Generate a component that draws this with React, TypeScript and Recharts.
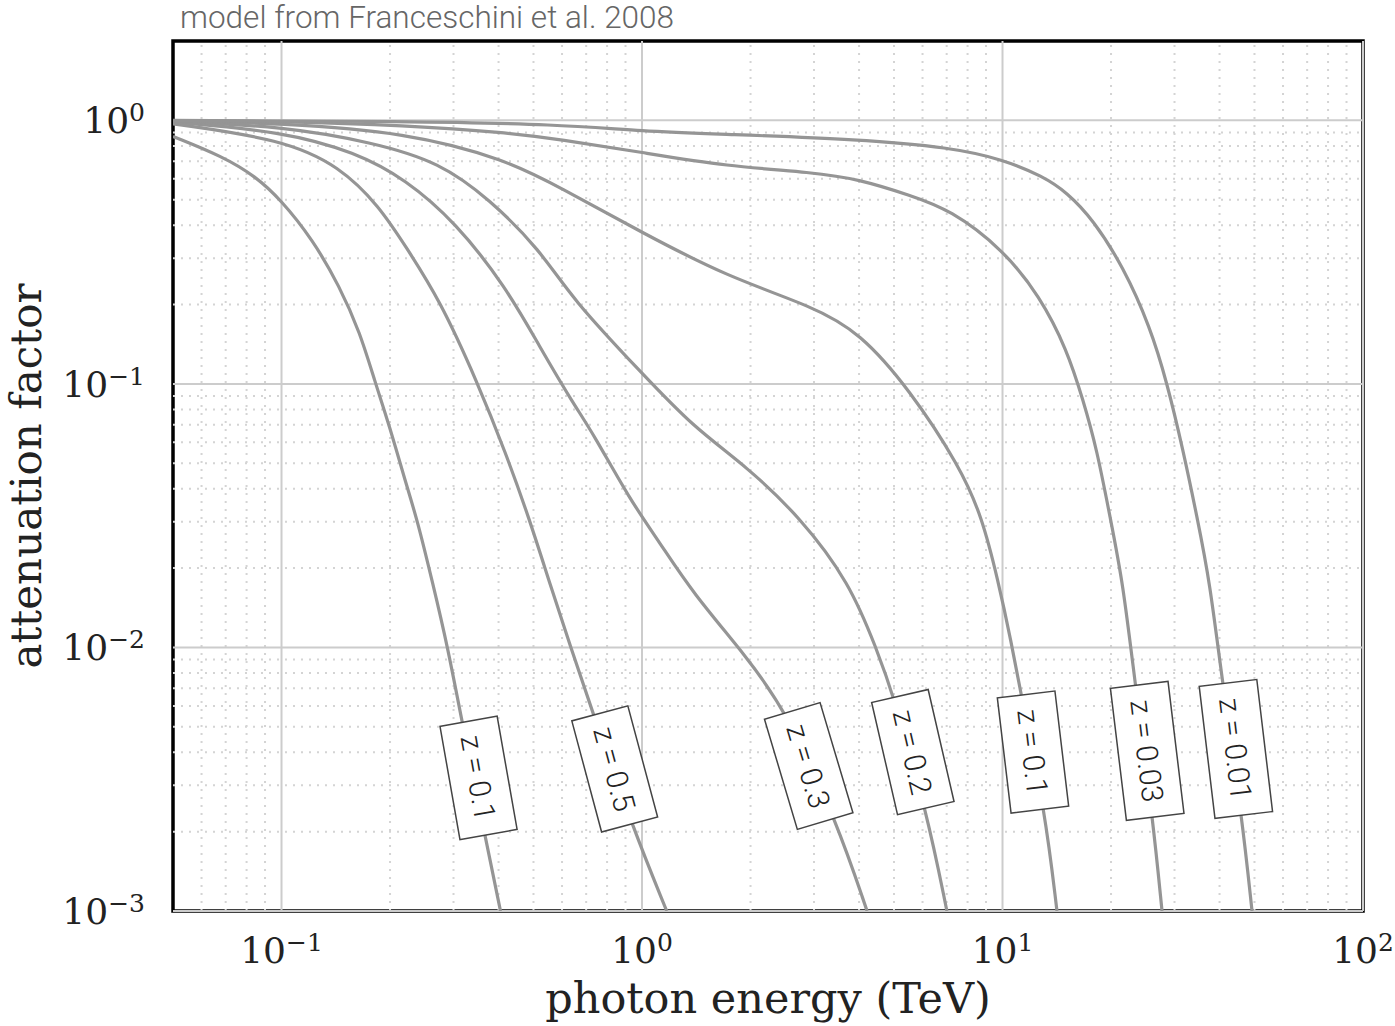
import React from 'react';
import { LineChart, Line, XAxis, YAxis, ReferenceLine, ReferenceDot, ReferenceArea } from 'recharts';

// photon energy (TeV) -> attenuation factor
const zOneLeft = [
  { e: 0.05, f: 0.869 }, { e: 0.0686, f: 0.73 }, { e: 0.0847, f: 0.613 }, { e: 0.0994, f: 0.501 },
  { e: 0.122, f: 0.353 }, { e: 0.145, f: 0.234 }, { e: 0.165, f: 0.157 }, { e: 0.182, f: 0.101 },
  { e: 0.1995, f: 0.0689 }, { e: 0.221, f: 0.0422 }, { e: 0.238, f: 0.0305 }, { e: 0.2625, f: 0.0176 },
  { e: 0.289, f: 0.01005 }, { e: 0.316, f: 0.00531 }, { e: 0.368, f: 0.00189 }, { e: 0.405, f: 0.001 },
];
const zFive = [
  { e: 0.05, f: 0.97 }, { e: 0.1006, f: 0.847 }, { e: 0.145, f: 0.669 }, { e: 0.187, f: 0.471 },
  { e: 0.221, f: 0.332 }, { e: 0.2745, f: 0.209 }, { e: 0.35, f: 0.101 }, { e: 0.4185, f: 0.0548 },
  { e: 0.488, f: 0.0305 }, { e: 0.554, f: 0.0176 }, { e: 0.634, f: 0.01005 }, { e: 0.73, f: 0.00565 },
  { e: 0.942, f: 0.00208 }, { e: 1.171, f: 0.001 },
];
const zThree = [
  { e: 0.05, f: 0.985 }, { e: 0.1006, f: 0.908 }, { e: 0.1605, f: 0.756 }, { e: 0.221, f: 0.597 },
  { e: 0.304, f: 0.41 }, { e: 0.4185, f: 0.234 }, { e: 0.52, f: 0.1385 }, { e: 0.642, f: 0.0849 },
  { e: 0.73, f: 0.0653 }, { e: 0.925, f: 0.0364 }, { e: 1.12, f: 0.025 }, { e: 1.382, f: 0.0161 },
  { e: 1.953, f: 0.00921 }, { e: 2.52, f: 0.00569 }, { e: 3.47, f: 0.00218 }, { e: 4.21, f: 0.001 },
];
const zTwo = [
  { e: 0.05, f: 0.99 }, { e: 0.1006, f: 0.949 }, { e: 0.179, f: 0.825 }, { e: 0.2745, f: 0.693 },
  { e: 0.378, f: 0.501 }, { e: 0.52, f: 0.324 }, { e: 0.642, f: 0.209 }, { e: 0.998, f: 0.11 },
  { e: 1.382, f: 0.0689 }, { e: 1.953, f: 0.0485 }, { e: 2.74, f: 0.0313 },
  { e: 3.77, f: 0.0176 }, { e: 4.48, f: 0.0098 }, { e: 4.96, f: 0.00672 }, { e: 6.17, f: 0.00237 },
  { e: 7.01, f: 0.001 },
];
const zOne = [
  { e: 0.05, f: 0.995 }, { e: 0.1006, f: 0.974 }, { e: 0.221, f: 0.9 }, { e: 0.4185, f: 0.711 },
  { e: 0.591, f: 0.557 }, { e: 0.998, f: 0.3755 }, { e: 1.718, f: 0.2556 }, { e: 2.98, f: 0.1966 },
  { e: 4.02, f: 0.1566 }, { e: 5.53, f: 0.0951 }, { e: 7.62, f: 0.0485 }, { e: 8.77, f: 0.0313 },
  { e: 9.71, f: 0.01806 }, { e: 10.55, f: 0.01069 }, { e: 11.32, f: 0.00632 }, { e: 13.11, f: 0.00242 },
  { e: 14.16, f: 0.001 },
];
const zThreeHundredths = [
  { e: 0.05, f: 0.998 }, { e: 0.1006, f: 0.991 }, { e: 0.221, f: 0.957 }, { e: 0.4185, f: 0.9 },
  { e: 0.591, f: 0.847 }, { e: 0.998, f: 0.756 }, { e: 1.718, f: 0.669 }, { e: 2.98, f: 0.635 },
  { e: 4.02, f: 0.597 }, { e: 5.53, f: 0.52 }, { e: 7.15, f: 0.459 }, { e: 10.03, f: 0.324 },
  { e: 12.7, f: 0.2146 }, { e: 15.09, f: 0.135 }, { e: 16.72, f: 0.0872 }, { e: 18.28, f: 0.0563 },
  { e: 19.87, f: 0.0313 }, { e: 21.59, f: 0.0176 }, { e: 23.31, f: 0.00734 }, { e: 26.15, f: 0.00221 },
  { e: 27.7, f: 0.001 },
];
const zOneHundredth = [
  { e: 0.05, f: 1.0 }, { e: 0.221, f: 0.991 }, { e: 0.591, f: 0.966 }, { e: 0.998, f: 0.908 },
  { e: 1.718, f: 0.885 }, { e: 4.02, f: 0.847 }, { e: 7.15, f: 0.79 }, { e: 10.03, f: 0.711 },
  { e: 12.95, f: 0.613 }, { e: 15.09, f: 0.533 }, { e: 17.82, f: 0.421 }, { e: 21.59, f: 0.279 },
  { e: 25.66, f: 0.165 }, { e: 28.6, f: 0.101 }, { e: 31.67, f: 0.0563 }, { e: 34.64, f: 0.0313 },
  { e: 37.63, f: 0.0176 }, { e: 40.63, f: 0.00753 }, { e: 46.18, f: 0.00227 }, { e: 49.22, f: 0.001 },
];

const curves = [zOneLeft, zFive, zThree, zTwo, zOne, zThreeHundredths, zOneHundredth];
const labelTexts = ['z = 0.1', 'z = 0.5', 'z = 0.3', 'z = 0.2', 'z = 0.1', 'z = 0.03', 'z = 0.01'];
const labelEnergy = [0.352, 0.84, 2.9, 5.64, 12.15, 25.2, 44.4];
const labelFactor = [0.0032, 0.00346, 0.00355, 0.00401, 0.00401, 0.00405, 0.00412];

const xTicks = [0.1, 1, 10, 100];
const yTicks = [0.001, 0.01, 0.1, 1];

// label box look
const labelAngles = [80, 75, 73.4, 77, 83.2, 83.1, 83.2];
const labelLengths = [115, 115, 115, 115, 116, 133, 133];

const minorBetween = (lo: number, hi: number) => {
  const out: number[] = [];
  for (let d = 0.0001; d < hi; d *= 10) {
    for (let k = 2; k <= 9; k++) {
      const v = +(k * d).toPrecision(3);
      if (v > lo && v < hi) out.push(v);
    }
  }
  return out;
};
const xMinor = minorBetween(0.05, 100);
const yMinor = minorBetween(0.001, 2);

const serif = '"DejaVu Serif", serif';

const supText = (v: number) => {
  const p = Math.round(Math.log10(v));
  return p < 0 ? '\u2212' + -p : String(p);
};

const XTick = (props: any) => {
  const { x, y, payload } = props;
  return (
    <text x={x} y={y + 52} textAnchor="middle" fontFamily={serif} fontSize={36} fill="#222">
      <tspan>10</tspan>
      <tspan dy={-12} fontSize={25}>{supText(payload.value)}</tspan>
    </text>
  );
};

const YTick = (props: any) => {
  const { x, y, payload } = props;
  return (
    <text x={x - 28} y={y + 13} textAnchor="end" fontFamily={serif} fontSize={36} fill="#222">
      <tspan>10</tspan>
      <tspan dy={-12} fontSize={25}>{supText(payload.value)}</tspan>
    </text>
  );
};

const LabelBox = ({ cx, cy, text, angle, len }: any) => (
  <g transform={`translate(${cx},${cy}) rotate(${angle})`}>
    <rect x={-len / 2} y={-29} width={len} height={58} fill="#fff" stroke="#444" strokeWidth={1.5} />
    <text x={0} y={0} dy="0.36em" textAnchor="middle" fontFamily="Roboto" fontWeight={300} fontSize={30} fill="#222">
      {text}
    </text>
  </g>
);

const App = () => {
  return (
    <div style={{ position: 'absolute', left: 0, top: 0, width: 1395, height: 1026, background: '#fff' }}>
      <LineChart width={1395} height={1026} margin={{ top: 41, right: 32, bottom: 0, left: 0 }}>
        <text x={180} y={28} fontFamily="Roboto" fontWeight={300} fontSize={31.5} fill="#666">
          model from Franceschini et al. 2008
        </text>
        <XAxis
          dataKey="e" type="number" scale="log" domain={[0.05, 100]} allowDataOverflow
          ticks={xTicks} interval={0} height={115} tickSize={0} tickMargin={0}
          axisLine={false} tickLine={false} tick={<XTick />}
          label={{
            content: (p: any) => (
              <text x={p.viewBox.x + p.viewBox.width / 2} y={p.viewBox.y + 102} textAnchor="middle"
                fontFamily={serif} fontSize={43} fill="#222">photon energy (TeV)</text>
            ),
          }}
        />
        <YAxis
          dataKey="f" type="number" scale="log" domain={[0.001, 2]} allowDataOverflow
          ticks={yTicks} interval={0} width={173} tickSize={0} tickMargin={0}
          axisLine={false} tickLine={false} tick={<YTick />}
          label={{
            content: (p: any) => {
              const cx = 41, cy = p.viewBox.y + p.viewBox.height / 2;
              return (
                <text x={cx} y={cy} transform={`rotate(-90 ${cx} ${cy})`} textAnchor="middle"
                  fontFamily={serif} fontSize={42} fill="#222">attenuation factor</text>
              );
            },
          }}
        />
        {xMinor.map((v) => (
          <ReferenceLine key={'xm' + v} x={v} stroke="#d4d4d4" strokeWidth={2} strokeDasharray="2 6" />
        ))}
        {yMinor.map((v) => (
          <ReferenceLine key={'ym' + v} y={v} stroke="#d4d4d4" strokeWidth={2} strokeDasharray="2 6" />
        ))}
        {xTicks.map((v) => (
          <ReferenceLine key={'xM' + v} x={v} stroke="#cccccc" strokeWidth={2} />
        ))}
        {yTicks.map((v) => (
          <ReferenceLine key={'yM' + v} y={v} stroke="#cccccc" strokeWidth={2} />
        ))}
        {curves.map((d, i) => (
          <Line key={i} data={d} dataKey="f" type="basis" stroke="#959595" strokeWidth={3.2}
            dot={false} activeDot={false} isAnimationActive={false} />
        ))}
        {labelTexts.map((t, i) => (
          <ReferenceDot key={'lb' + i} x={labelEnergy[i]} y={labelFactor[i]} ifOverflow="visible"
            shape={(p: any) => <LabelBox cx={p.cx} cy={p.cy} text={t} angle={labelAngles[i]} len={labelLengths[i]} />}
          />
        ))}
        <ReferenceArea x1={0.05} x2={100} y1={0.001} y2={2} fill="none" stroke="#000" strokeWidth={3.5}
          ifOverflow="visible" />
      </LineChart>
    </div>
  );
};

export default App;
